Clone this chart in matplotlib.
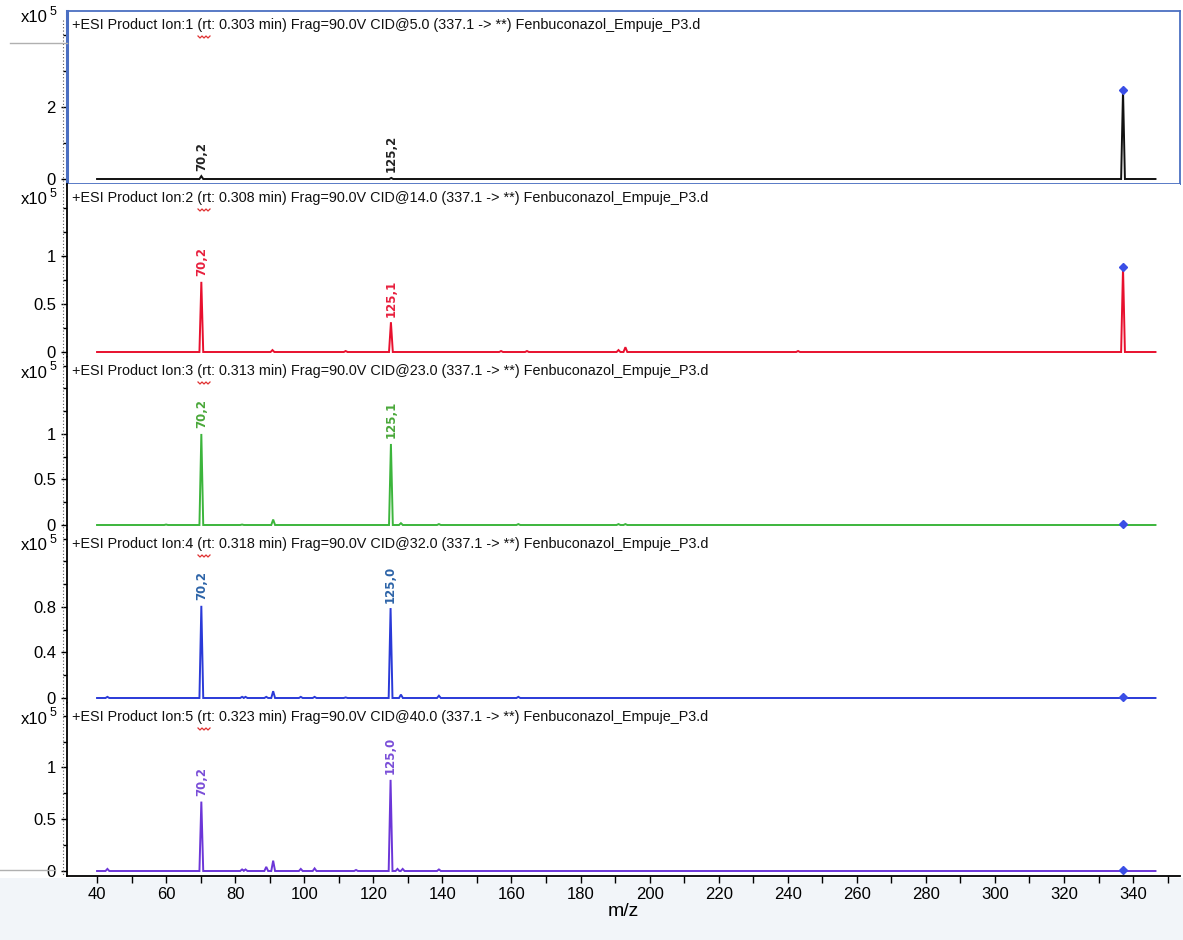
import numpy as np
import matplotlib
matplotlib.use("Agg")
import matplotlib.pyplot as plt
from matplotlib.lines import Line2D
from matplotlib.patches import Rectangle
from matplotlib.ticker import MultipleLocator, FixedLocator

plt.rcParams["font.family"] = ["Liberation Sans", "DejaVu Sans"]

# ---- data (m/z, intensity x10^5) ----
ion_no = [1, 2, 3, 4, 5]
rt_min = [0.303, 0.308, 0.313, 0.318, 0.323]
cid_ev = [5.0, 14.0, 23.0, 32.0, 40.0]
precursor = 337.1
mz_start, mz_end = 40.0, 346.5

peaks_cid5 = [(70.2, 0.08), (125.2, 0.03), (337.1, 2.46)]
peaks_cid14 = [(70.2, 0.73), (90.8, 0.02), (112.0, 0.01), (125.1, 0.31),
               (157.0, 0.01), (164.5, 0.01), (191.0, 0.02), (193.0, 0.05),
               (243.0, 0.01), (337.1, 0.88)]
peaks_cid23 = [(60.0, 0.005), (70.2, 1.00), (82.0, 0.005), (91.0, 0.06),
               (125.1, 0.89), (128.0, 0.02), (139.0, 0.01), (162.0, 0.01),
               (191.0, 0.01), (193.0, 0.01), (337.1, 0.01)]
peaks_cid32 = [(43.0, 0.01), (70.2, 0.81), (82.0, 0.01), (83.0, 0.01),
               (89.0, 0.01), (91.0, 0.06), (99.0, 0.01), (103.0, 0.01),
               (112.0, 0.005), (125.0, 0.79), (128.0, 0.03), (139.0, 0.02),
               (162.0, 0.01), (337.1, 0.01)]
peaks_cid40 = [(43.0, 0.02), (70.2, 0.67), (82.0, 0.015), (83.0, 0.015),
               (89.0, 0.04), (91.0, 0.10), (99.0, 0.02), (103.0, 0.025),
               (115.0, 0.01), (125.0, 0.88), (127.0, 0.02), (128.5, 0.02),
               (139.0, 0.015), (337.1, 0.01)]
spectra = [peaks_cid5, peaks_cid14, peaks_cid23, peaks_cid32, peaks_cid40]

labels_cid5 = [(70.2, "70,2"), (125.2, "125,2")]
labels_cid14 = [(70.2, "70,2"), (125.1, "125,1")]
labels_cid23 = [(70.2, "70,2"), (125.1, "125,1")]
labels_cid32 = [(70.2, "70,2"), (125.0, "125,0")]
labels_cid40 = [(70.2, "70,2"), (125.0, "125,0")]
peak_labels = [labels_cid5, labels_cid14, labels_cid23, labels_cid32, labels_cid40]

y_top = [4.8, 1.8, 1.9, 1.52, 1.67]
y_major = [[0, 2], [0, 0.5, 1], [0, 0.5, 1], [0, 0.4, 0.8], [0, 0.5, 1]]
y_minor = [1.0, 0.25, 0.25, 0.2, 0.25]

line_colors = ["#111111", "#e8102e", "#3cb53c", "#2a3ad8", "#6c36d8"]
text_colors = ["#222222", "#e8203e", "#4aa83a", "#2d64a8", "#7a4ed8"]

# ---- figure layout (pixels) ----
W, H = 1183, 940
fig = plt.figure(figsize=(W / 100, H / 100), dpi=100)
fig.patch.set_facecolor("white")
fig.patches.append(Rectangle((0, 0), 1, (H - 878) / H, transform=fig.transFigure,
                             facecolor="#f2f5f9", edgecolor="none", zorder=-5))

ax_left, ax_right = 67, 1180
panel_h = 173
tops = [11 + i * panel_h for i in range(5)]
# vertical offset (px below panel top) of the "x10^5" note
scale_dy = [7, 16, 16, 16, 16]
axes = []
for top in tops:
    ax = fig.add_axes([ax_left / W, 1 - (top + panel_h) / H,
                       (ax_right - ax_left) / W, panel_h / H])
    axes.append(ax)


def profile(peaks):
    xs, ys = [mz_start], [0.0]
    for mz, h in sorted(peaks):
        xs += [mz - 0.55, mz, mz + 0.55]
        ys += [0.0, h, 0.0]
    xs.append(mz_end)
    ys.append(0.0)
    return np.array(xs), np.array(ys)


for i, ax in enumerate(axes):
    top = tops[i]
    x, y = profile(spectra[i])
    ax.plot(x, y, color=line_colors[i], lw=1.4, solid_joinstyle="miter")
    hmap = dict(spectra[i])
    ax.plot([precursor], [hmap[precursor]], marker="D", ms=4.5,
            color="#3a4ee6", mec="#3a4ee6")

    unit = panel_h / y_top[i]
    ax.set_xlim(31.3, 353.6)
    ax.set_ylim(-5 / unit, y_top[i] - 5 / unit)

    for mz, txt in peak_labels[i]:
        ax.annotate(txt, (mz, hmap[mz]), xytext=(0, 4), textcoords="offset points",
                    rotation=90, ha="center", va="bottom", fontsize=8.5,
                    family="DejaVu Sans", weight="bold", color=text_colors[i])

    title = (f"+ESI Product Ion:{ion_no[i]} (rt: {rt_min[i]:.3f} min) Frag=90.0V "
             f"CID@{cid_ev[i]:.1f} (337.1 -> **) Fenbuconazol_Empuje_P3.d")
    ax.text(5 / (ax_right - ax_left), 1 - 14 / panel_h, title, transform=ax.transAxes,
            ha="left", va="center", fontsize=10.4, color="#111111")

    ax.yaxis.set_major_locator(FixedLocator(y_major[i]))
    ax.yaxis.set_minor_locator(MultipleLocator(y_minor[i]))
    ax.set_yticklabels([f"{v:g}" for v in y_major[i]])
    ax.tick_params(axis="y", which="major", length=4, width=1, labelsize=12, pad=4)
    ax.tick_params(axis="y", which="minor", length=3, width=1)

    for s in ["top", "right", "bottom"]:
        ax.spines[s].set_visible(False)
    ax.spines["left"].set_color("black")
    ax.spines["left"].set_linewidth(1.3)

    if i < 4:
        ax.tick_params(axis="x", which="both", bottom=False, labelbottom=False)

    # x10^5 scale note
    dy = scale_dy[i]
    fig.text(48 / W, 1 - (top + dy) / H, "x10", ha="right", va="center", fontsize=12)
    fig.text(50 / W, 1 - (top + dy - 6) / H, "5", ha="left", va="center", fontsize=9)
    # red spell-check squiggle under "rt"
    sq_x = np.linspace(198, 210, 7)
    sq_y = top + 25 + np.tile([0.0, 2.0], 4)[:7]
    fig.add_artist(Line2D(sq_x / W, 1 - sq_y / H, transform=fig.transFigure,
                          color="#e03030", lw=0.9))

# first panel: selected (blue frame)
for s in ["top", "right", "bottom", "left"]:
    axes[0].spines[s].set_visible(True)
    axes[0].spines[s].set_color("#4b6fc2")
    axes[0].spines[s].set_linewidth(1.3)
axes[0].spines["left"].set_linewidth(2.2)

# bottom axis
ax = axes[-1]
ax.spines["bottom"].set_visible(True)
ax.spines["bottom"].set_color("black")
ax.spines["bottom"].set_linewidth(1.3)
ax.xaxis.set_major_locator(MultipleLocator(20))
ax.xaxis.set_minor_locator(MultipleLocator(10))
ax.tick_params(axis="x", which="both", length=5, width=1, labelsize=12, pad=3)
ax.set_xlabel("m/z", fontsize=14, labelpad=1)

# dotted guide and grey UI separators
fig.add_artist(Line2D([63 / W, 63 / W], [1 - 20 / H, 1 - 876 / H], transform=fig.transFigure,
                      color="#555555", lw=0.8, ls=(0, (1, 2))))
fig.add_artist(Line2D([10 / W, 67 / W], [1 - 43 / H, 1 - 43 / H], transform=fig.transFigure,
                      color="#b0b0b0", lw=1))
fig.add_artist(Line2D([0, 55 / W], [1 - 870 / H, 1 - 870 / H], transform=fig.transFigure,
                      color="#b0b0b0", lw=1))

fig.savefig("out.png", dpi=100)
